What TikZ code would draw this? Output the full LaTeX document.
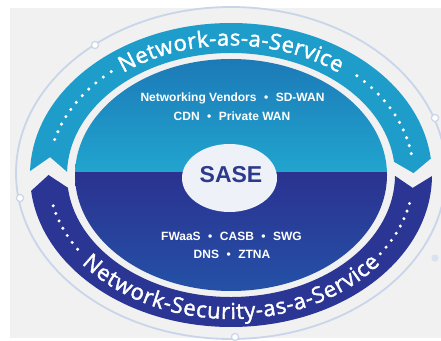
\documentclass[tikz,border=0pt]{standalone}
\usepackage{fontspec}
\usetikzlibrary{decorations.text}
\newfontfamily\bandfont[FakeBold=1.8]{Open Sans}
\newfontfamily\labelfont{Liberation Sans}
\newcommand{\bandsize}{\bandfont\fontsize{22}{22}\selectfont}
\definecolor{bgGray}{HTML}{F1F1F1}
\definecolor{rim}{HTML}{C9D5E9}
\definecolor{bandTop}{HTML}{1F9DCA}
\definecolor{bandBot}{HTML}{2B3593}
\definecolor{diskTopA}{HTML}{1C78B6}
\definecolor{diskTopB}{HTML}{21A5CF}
\definecolor{diskBotA}{HTML}{2B3290}
\definecolor{diskBotB}{HTML}{2452A8}
\definecolor{saseFill}{HTML}{EEF1F8}
\definecolor{saseText}{HTML}{2D3A8C}
\tikzset{
  rimdot/.style={fill=white, draw=rim, line width=1.2pt},
  inlabel/.style={text=white, font=\labelfont\bfseries\fontsize{12}{14}\selectfont, inner sep=0pt},
  bandtitle/.style={font=\bandsize, decorate, decoration={text effects along path, text={#1},
      text effects/.cd, text along path, fit text to path,
      character widths={font=\bandsize, inner xsep=0pt},
      characters={text=white, font=\bandsize}}},
}
\newcommand{\sep}{\hspace{7.5pt}\textbullet\hspace{7.5pt}}
\newcommand{\trail}[1]{%
  \foreach \t in {#1}
    \fill[white] ({\cx+182.5*cos(\t)},{\cy+137*sin(\t)}) circle[radius=1.7pt];}
\begin{document}
\begin{tikzpicture}[x=1pt,y=1pt]
\useasboundingbox (0,0) rectangle (441,340);
\fill[white] (0,0) rectangle (441,340);
\fill[bgGray] (10,2) rectangle (441,332);
\def\cx{231}\def\cy{165}

% thin outer rim with its small beads
\draw[rim, line width=1.8pt] (231,167) ellipse[x radius=215pt, y radius=166pt];
\foreach \p in {(95,295),(435,222),(20,142),(235,3)}
  \filldraw[rimdot] \p circle[radius=3.6pt];
\fill[rim!70] (435,82) circle[radius=3.6pt];

% central disk, split in two halves
\begin{scope}
  \clip (\cx,\cy) ellipse[x radius=156pt, y radius=116pt];
  \shade[top color=diskTopA, bottom color=diskTopB] (\cx-160,167.5) rectangle (\cx+160,\cy+120);
  \shade[top color=diskBotA, bottom color=diskBotB] (\cx-160,\cy-120) rectangle (\cx+160,167.5);
\end{scope}

% upper band: notched tail on the left, point on the right
\fill[bandTop] ({\cx+201*cos(178.5)},{\cy+152*sin(178.5)})
  arc[start angle=178.5, end angle=6.2, x radius=201pt, y radius=152pt]
  -- ({\cx+182.5*cos(0.8)},{\cy+137*sin(0.8)})
  -- ({\cx+164*cos(6.2)},{\cy+122*sin(6.2)})
  arc[start angle=6.2, end angle=178.5, x radius=164pt, y radius=122pt]
  -- ({\cx+182.5*cos(172.5)},{\cy+137*sin(172.5)})
  -- cycle;

% lower band: notched tail on the right, point on the left
\fill[bandBot] ({\cx+201*cos(-0.4)},{\cy+152*sin(-0.4)})
  arc[start angle=-0.4, end angle=-174, x radius=201pt, y radius=152pt]
  -- ({\cx+182.5*cos(-180)},{\cy+137*sin(-180)})
  -- ({\cx+164*cos(-174)},{\cy+122*sin(-174)})
  arc[start angle=-174, end angle=-0.4, x radius=164pt, y radius=122pt]
  -- ({\cx+182.5*cos(-5.4)},{\cy+137*sin(-5.4)})
  -- cycle;

% dotted trails along the bands
\trail{131,134.4,...,168}
\trail{9,12.4,...,49}
\trail{-12,-15.3,...,-37}
\trail{-167,-163.7,...,-144}

% curved band titles
\path[bandtitle={Network-as-a-Service}]
  ({\cx+175*cos(128)},{\cy+129.5*sin(128)})
  arc[start angle=128, end angle=52, x radius=175pt, y radius=129.5pt];
\path[bandtitle={Network-Security-as-a-Service}]
  ({\cx+189.5*cos(218)},{\cy+144*sin(218)})
  arc[start angle=218, end angle=322, x radius=189.5pt, y radius=144pt];

% SASE core
\fill[saseFill] (229.5,162) ellipse[x radius=47.5pt, y radius=34pt];
\node[text=saseText, font=\labelfont\bfseries\fontsize{23}{25}\selectfont, inner sep=0pt] (sase) at (231,165.5) {SASE};

% service lists
\node[inlabel] (net1) at (232.5,242) {Networking Vendors\sep SD-WAN};
\node[inlabel] (net2) at (232,223.5) {CDN\sep Private WAN};
\node[inlabel] (sec1) at (231.5,104) {FWaaS\sep CASB\sep SWG};
\node[inlabel] (sec2) at (232,86) {DNS\sep ZTNA};
\end{tikzpicture}
\end{document}
